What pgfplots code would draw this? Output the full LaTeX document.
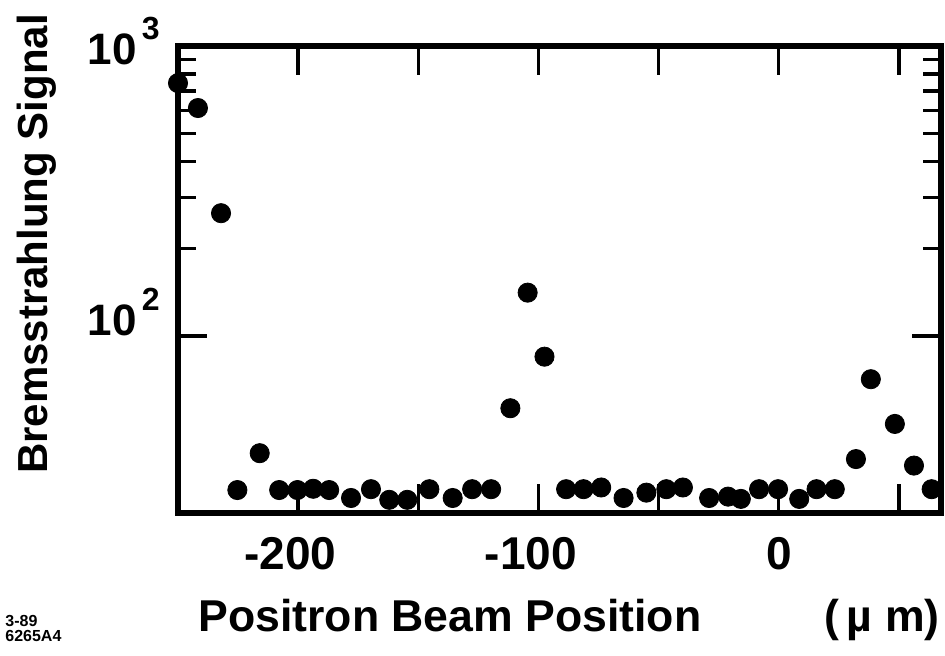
\documentclass[border=0pt]{standalone}
\usepackage{fontspec}
\setmainfont{Liberation Sans}
\usepackage{pgfplots}
\pgfplotsset{compat=1.18}
\begin{document}
\begin{tikzpicture}
\begin{axis}[
  at={(0,0)}, anchor=south west,
  scale only axis,
  width=381.5pt, height=233.5pt,
  xmin=-250, xmax=67.5,
  ymode=log, ymin=24.5, ymax=1000,
  axis line style={line width=2.6pt},
  every tick/.style={black, line width=1.7pt},
  major tick length=14.5pt,
  minor tick length=9pt,
  tick align=inside,
  xtick={-200,-150,-100,-50,0,50},
  xticklabels={\llap{-}200,{},\llap{-}100,{},0,{}},
  minor x tick num=0,
  ytick={100,1000},
  yticklabels={{10\hspace{2.5pt}\raisebox{12.5pt}{\fontsize{16}{16}\selectfont 2}},
               {\raisebox{-9.5pt}{10\hspace{2.5pt}\raisebox{12.5pt}{\fontsize{16}{16}\selectfont 3}}}},
  xticklabel style={font=\fontsize{23}{23}\selectfont\bfseries, anchor=base, inner sep=0pt, yshift=-28.5pt},
  yticklabel style={font=\fontsize{22}{22}\selectfont\bfseries, anchor=base east, inner sep=0pt, xshift=-9pt},
]
\addplot[only marks, mark=*, mark size=4.8pt, black] coordinates {
(-250,745) (-241.7,611) (-232.1,265) (-225.3,29.4) (-216.0,39.4)
(-207.9,29.4) (-200.3,29.4) (-193.75,29.7) (-187.1,29.4) (-178.0,27.6)
(-169.7,29.6) (-162.1,27.2) (-154.6,27.2) (-145.4,29.6) (-135.7,27.6)
(-127.6,29.6) (-119.7,29.6) (-111.7,56.3) (-104.5,141) (-97.5,84.8)
(-88.5,29.6) (-81.25,29.6) (-73.9,30.0) (-64.6,27.6) (-55.1,28.8)
(-46.8,29.6) (-39.9,30.0) (-29.0,27.6) (-21.1,27.9) (-15.8,27.4)
(-8.2,29.6) (-0.3,29.6) (8.5,27.4) (15.7,29.6) (23.3,29.6)
(32.1,37.6) (38.3,70.9) (48.3,49.7) (56.25,35.7) (63.6,29.6)
};
\end{axis}
\node[rotate=90, anchor=base, inner sep=0pt, font=\fontsize{21}{21}\selectfont\bfseries] at (-65.5pt,134.5pt) {Bremsstrahlung Signal};
\node[anchor=base west, inner sep=0pt, font=\fontsize{22.3}{22.3}\selectfont\bfseries] at (10pt,-59.5pt) {Positron Beam Position};
\node[anchor=base east, inner sep=0pt, font=\fontsize{22.3}{22.3}\selectfont\bfseries] at (381pt,-59.5pt) {(\,µ m)};
\node[anchor=north west, inner sep=0pt, align=left, font=\fontsize{8}{7.5}\selectfont\bfseries] at (-86.5pt,-51pt) {3-89\\6265A4};
\pgfresetboundingbox
\path (-89pt,-71.5pt) rectangle (383.5pt,256.5pt);
\end{tikzpicture}
\end{document}
